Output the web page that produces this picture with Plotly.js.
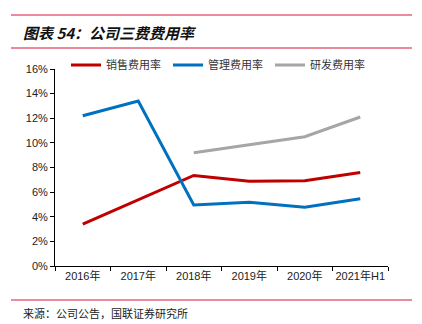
<!DOCTYPE html>
<html>
<head>
<meta charset="utf-8">
<script src="https://cdn.plot.ly/plotly-3.0.1.min.js"></script>
<style>html,body{margin:0;padding:0;background:#fff;}#chart{width:422px;height:324px;}</style>
</head>
<body>
<div id="chart"></div>
<script>
const categories = ["2016年", "2017年", "2018年", "2019年", "2020年", "2021年H1"];
const salesRate = [3.4, 5.4, 7.35, 6.88, 6.92, 7.6];
const adminRate = [12.2, 13.4, 4.96, 5.18, 4.77, 5.47];
const rdRate = [null, null, 9.2, 9.85, 10.5, 12.1];
const seriesNames = ["销售费用率", "管理费用率", "研发费用率"];
const yTicks = [0, 2, 4, 6, 8, 10, 12, 14, 16];

const W = 422, H = 324;
const M = {l: 55, r: 34, t: 69, b: 58};
const pw = W - M.l - M.r, ph = H - M.t - M.b;
const px = x => (x - M.l) / pw;
const py = y => (H - M.b - y) / ph;

const cjk = '"Liberation Sans", Arial, "Noto Sans CJK SC", sans-serif';
const lineColor = '#e2657d';

const traces = [
  {x: categories, y: salesRate, name: seriesNames[0], line: {color: '#C00000', width: 3}},
  {x: categories, y: adminRate, name: seriesNames[1], line: {color: '#0070C0', width: 3}},
  {x: categories, y: rdRate, name: seriesNames[2], line: {color: '#A6A6A6', width: 3}, connectgaps: false}
].map(t => Object.assign({type: 'scatter', mode: 'lines', hoverinfo: 'skip'}, t));

const layout = {
  width: W, height: H,
  margin: M,
  paper_bgcolor: '#fff', plot_bgcolor: '#fff',
  font: {family: cjk, size: 11, color: '#222'},
  showlegend: true,
  legend: {
    orientation: 'h', x: px(66), xanchor: 'left', y: py(65), yanchor: 'middle',
    font: {family: '"Noto Sans CJK SC", sans-serif', size: 11, color: '#333'},
    entrywidth: 57, entrywidthmode: 'pixels', itemwidth: 30, bgcolor: 'rgba(0,0,0,0)'
  },
  xaxis: {
    type: 'category', range: [-0.5, 5.5], showline: true, linecolor: '#000', linewidth: 1,
    ticks: 'outside', tickson: 'boundaries', ticklen: 4, tickcolor: '#000', tickangle: 0,
    showgrid: false, zeroline: false, fixedrange: true,
    tickfont: {family: cjk, size: 11, color: '#222'}
  },
  yaxis: {
    range: [0, 16], tickvals: yTicks, ticktext: yTicks.map(v => v + '%'),
    showline: true, linecolor: '#000', linewidth: 1,
    ticks: 'outside', ticklen: 4, tickcolor: '#000',
    showgrid: false, zeroline: false, fixedrange: true,
    tickfont: {family: cjk, size: 11, color: '#222'}
  },
  shapes: [
    {type: 'line', xref: 'paper', yref: 'paper', x0: px(11), x1: px(412), y0: py(15), y1: py(15), line: {color: lineColor, width: 1.5}},
    {type: 'line', xref: 'paper', yref: 'paper', x0: px(11), x1: px(412), y0: py(48), y1: py(48), line: {color: lineColor, width: 1.5}},
    {type: 'line', xref: 'paper', yref: 'paper', x0: px(11), x1: px(412), y0: py(300), y1: py(300), line: {color: lineColor, width: 1.5}}
  ],
  annotations: [
    {xref: 'paper', yref: 'paper', x: px(21), y: py(32), xanchor: 'left', yanchor: 'middle', showarrow: false,
     text: '<b><i>图表 54：公司三费费用率</i></b>', font: {family: '"Noto Sans CJK SC", sans-serif', size: 15, color: '#111'}},
    {xref: 'paper', yref: 'paper', x: px(21), y: py(313), xanchor: 'left', yanchor: 'middle', showarrow: false,
     text: '来源：公司公告，国联证券研究所', font: {family: '"Noto Sans CJK SC", sans-serif', size: 11, color: '#222'}}
  ]
};

Plotly.newPlot('chart', traces, layout, {displayModeBar: false, staticPlot: true});
</script>
</body>
</html>
